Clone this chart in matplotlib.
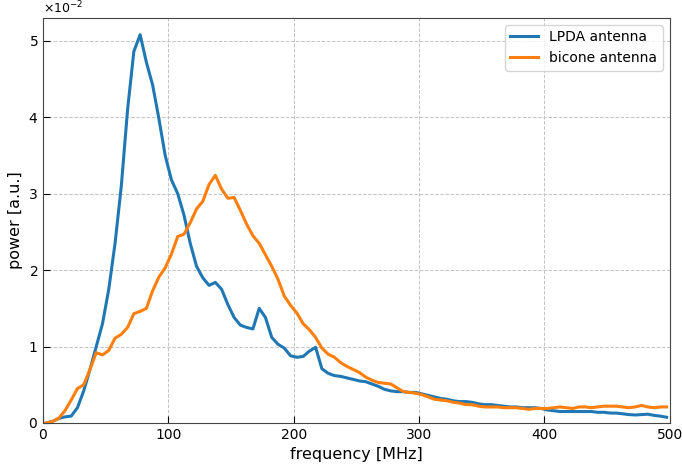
import numpy as np
import matplotlib.pyplot as plt

# frequency bins (MHz)
freq = np.arange(2.5, 500, 5)

# power in units of 1e-2
lpda = [0.0, 0.02, 0.06, 0.08, 0.09, 0.2, 0.42, 0.7, 1.0, 1.3,
        1.75, 2.35, 3.1, 4.1, 4.86, 5.08, 4.72, 4.42, 3.98, 3.5,
        3.18, 3.0, 2.72, 2.35, 2.05, 1.9, 1.8, 1.84, 1.75, 1.55,
        1.38, 1.28, 1.25, 1.23, 1.5, 1.38, 1.12, 1.03, 0.98, 0.88,
        0.86, 0.87, 0.94, 0.99, 0.71, 0.65, 0.62, 0.61, 0.59, 0.57,
        0.55, 0.54, 0.51, 0.48, 0.44, 0.42, 0.41, 0.41, 0.40, 0.40,
        0.38, 0.36, 0.34, 0.32, 0.31, 0.29, 0.28, 0.28, 0.27, 0.25,
        0.24, 0.24, 0.23, 0.22, 0.21, 0.21, 0.2, 0.2, 0.2, 0.19,
        0.17, 0.16, 0.15, 0.15, 0.15, 0.15, 0.15, 0.15, 0.14, 0.14,
        0.13, 0.13, 0.12, 0.11, 0.105, 0.11, 0.115, 0.1, 0.09, 0.075]

bicone = [0.0, 0.02, 0.06, 0.16, 0.3, 0.45, 0.5, 0.7, 0.92, 0.89,
          0.95, 1.11, 1.16, 1.25, 1.43, 1.46, 1.5, 1.73, 1.91, 2.03,
          2.21, 2.44, 2.47, 2.62, 2.8, 2.9, 3.12, 3.24, 3.06, 2.94,
          2.95, 2.78, 2.6, 2.45, 2.35, 2.2, 2.05, 1.88, 1.66, 1.54,
          1.44, 1.3, 1.22, 1.12, 0.98, 0.9, 0.86, 0.79, 0.74, 0.7,
          0.66, 0.6, 0.56, 0.53, 0.52, 0.51, 0.46, 0.41, 0.4, 0.39,
          0.37, 0.34, 0.31, 0.3, 0.29, 0.27, 0.26, 0.24, 0.24, 0.22,
          0.21, 0.21, 0.21, 0.2, 0.2, 0.2, 0.19, 0.18, 0.19, 0.19,
          0.19, 0.2, 0.21, 0.2, 0.19, 0.21, 0.21, 0.2, 0.21, 0.22,
          0.22, 0.22, 0.21, 0.2, 0.21, 0.23, 0.21, 0.2, 0.21, 0.21]

lpda = np.array(lpda) * 1e-2
bicone = np.array(bicone) * 1e-2

fig = plt.figure(figsize=(6.82, 4.70), dpi=100)
ax = fig.add_axes([0.063, 0.1, 0.919, 0.862])

ax.plot(freq, lpda, color='#1f77b4', lw=2.2, label='LPDA antenna')
ax.plot(freq, bicone, color='#ff7f0e', lw=2.2, label='bicone antenna')

ax.set_xlim(0, 500)
ax.set_ylim(0, 0.053)
ax.set_yticks([0, 0.01, 0.02, 0.03, 0.04, 0.05])
ax.ticklabel_format(axis='y', style='sci', scilimits=(-2, -2), useMathText=True)
ax.yaxis.get_offset_text().set_fontsize(9)

ax.set_xlabel('frequency [MHz]', fontsize=11.5)
ax.set_ylabel('power [a.u.]', fontsize=11.5)
ax.tick_params(direction='in', labelsize=10, length=5)
ax.grid(True, linestyle='--', color='#c4c4c4', lw=0.7)
for s in ax.spines.values():
    s.set_color('#444444')

ax.legend(loc='upper right', fontsize=10)

plt.savefig('out.png', dpi=100)
